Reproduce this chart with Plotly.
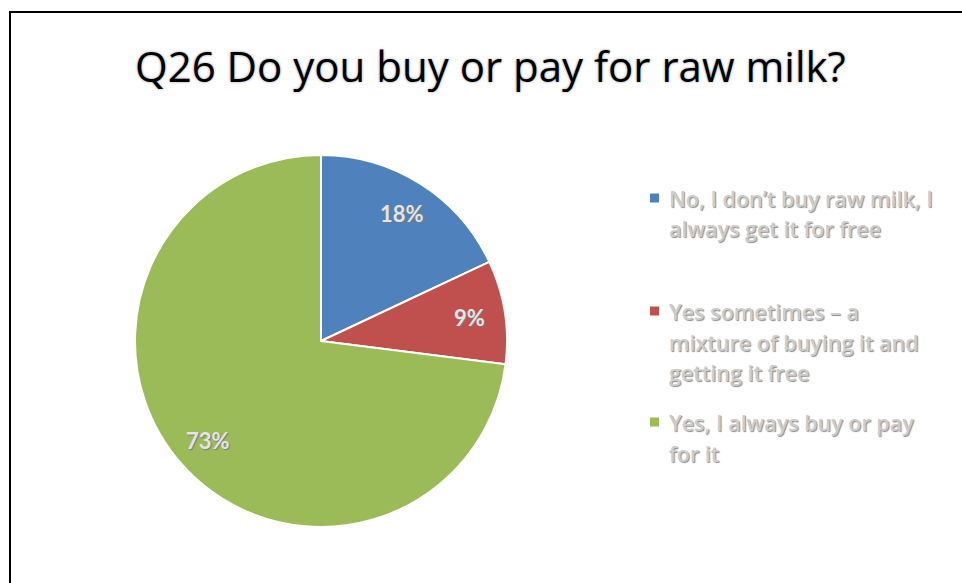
import math
import plotly.graph_objects as go

# Survey answers for Q26 (share of respondents, %)
categories = [
    "No, I don’t buy raw milk, I always get it for free",
    "Yes sometimes – a mixture of buying it and getting it free",
    "Yes, I always buy or pay for it",
]
legend_lines = [
    ["No, I don’t buy raw milk, I", "always get it for free"],
    ["Yes sometimes – a", "mixture of buying it and", "getting it free"],
    ["Yes, I always buy or pay", "for it"],
]
values = [18, 9, 73]
colors = ["#4F81BD", "#C0504D", "#9BBB59"]
title_text = "Q26 Do you buy or pay for raw milk?"

W, H = 962, 583
# pie geometry in pixels
CX, CY, R = 321, 341, 186

fig = go.Figure()
fig.add_trace(go.Pie(
    labels=categories,
    values=values,
    sort=False,
    direction="clockwise",
    rotation=0,
    marker=dict(colors=colors, line=dict(color="white", width=2)),
    textinfo="none",
    hoverinfo="label+percent",
    showlegend=False,
    domain=dict(x=[(CX - R) / W, (CX + R) / W],
                y=[(H - CY - R) / H, (H - CY + R) / H]),
))

annotations = []

# percentage labels placed along each slice's mid-angle
total = sum(values)
cum = 0
label_font = dict(family="Lato", size=22, color="#e4e4e4", weight="bold",
                  shadow="1px 1px 1px #7a7a7a")
for v in values:
    mid = (cum + v / 2) / total * 2 * math.pi
    cum += v
    px = CX + 0.81 * R * math.sin(mid)
    py = CY - 0.81 * R * math.cos(mid)
    annotations.append(dict(
        x=px / W, y=(H - py) / H, xref="paper", yref="paper",
        text=f"{round(v / total * 100)}%", showarrow=False,
        xanchor="center", yanchor="middle", font=label_font,
    ))

# title
annotations.append(dict(
    x=490 / W, y=(H - 66) / H, xref="paper", yref="paper",
    text=title_text, showarrow=False, xanchor="center", yanchor="middle",
    font=dict(family="Open Sans", size=42, color="#000000",
              shadow="0px 0px 3px #9a9a9a"),
))

# legend: coloured squares with wrapped entry text
shapes = []
legend_top = [198, 311, 422]
line_gap = 31
text_font = dict(family="Open Sans", size=21.5, color="#cdcdcd", weight=600,
                 shadow="1px 1px 1px #8c8c8c")
for color, lines, top in zip(colors, legend_lines, legend_top):
    shapes.append(dict(
        type="rect", xref="paper", yref="paper",
        x0=650 / W, x1=659 / W, y0=(H - top - 4.5) / H, y1=(H - top + 4.5) / H,
        fillcolor=color, line=dict(width=0),
    ))
    for i, line in enumerate(lines):
        ly = top + i * line_gap
        annotations.append(dict(
            x=667 / W, y=(H - ly) / H, xref="paper", yref="paper",
            text=line, showarrow=False, xanchor="left", yanchor="middle",
            font=text_font,
        ))

# chart frame (left and top edges visible)
shapes.append(dict(
    type="rect", xref="paper", yref="paper",
    x0=10 / W, x1=1.05, y0=-0.05, y1=(H - 12) / H,
    line=dict(color="#000000", width=2), fillcolor="rgba(0,0,0,0)",
))

fig.update_layout(
    width=W, height=H,
    margin=dict(l=0, r=0, t=0, b=0),
    paper_bgcolor="white",
    plot_bgcolor="white",
    annotations=annotations,
    shapes=shapes,
)

fig.write_html("out.html")
